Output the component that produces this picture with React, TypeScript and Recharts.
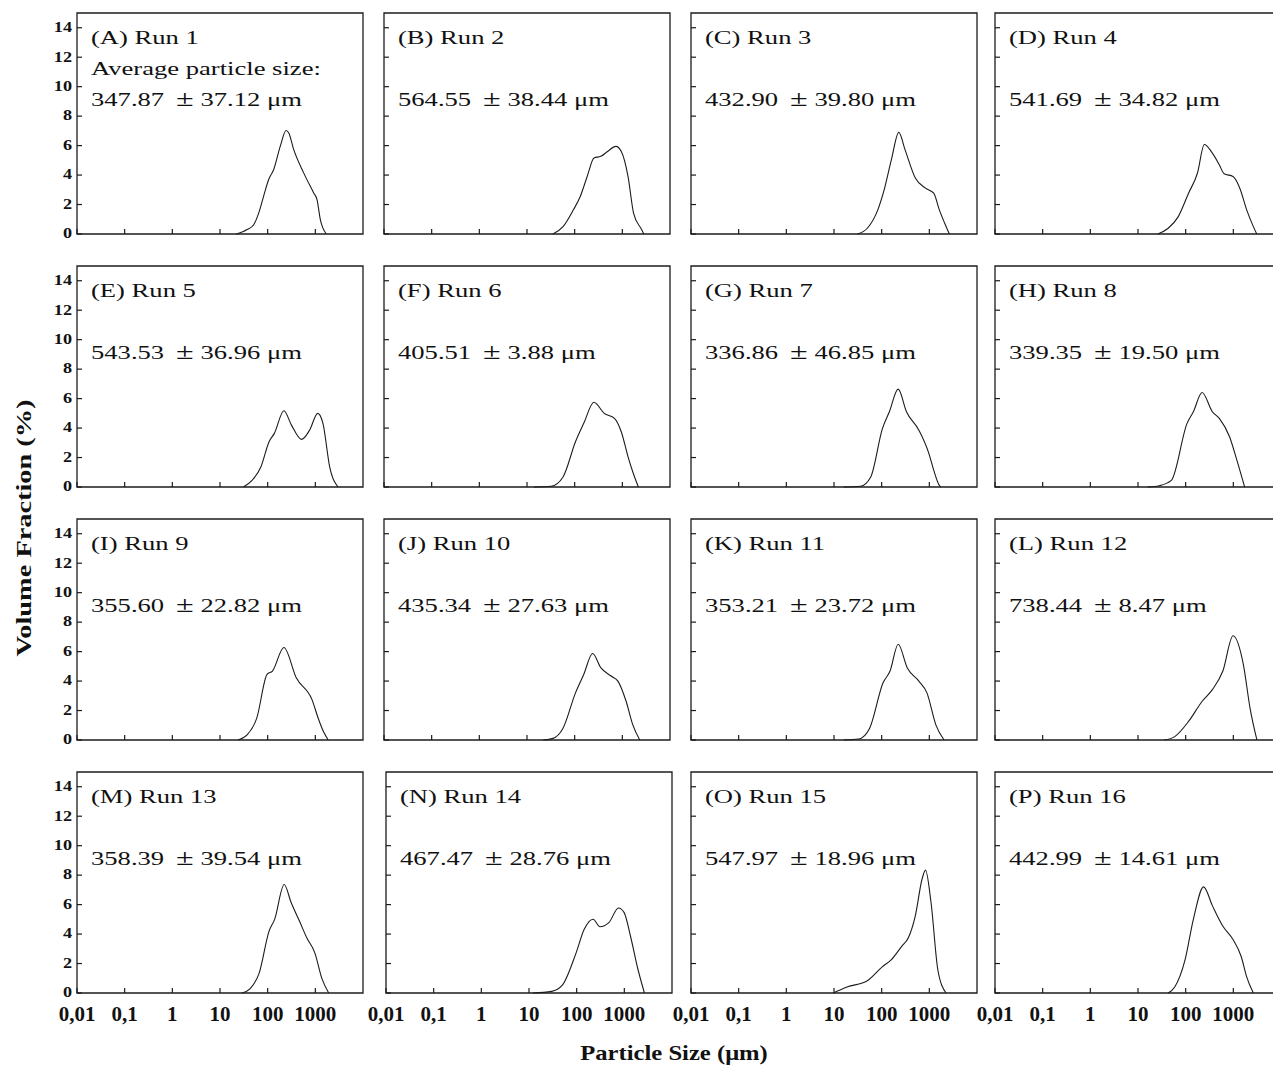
import React from 'react';
import { LineChart, Line, XAxis, YAxis, ReferenceArea } from 'recharts';

// particle size distributions, [size in µm, volume fraction in %]
const run1 = [[22, 0], [30, 0.15], [37, 0.3], [51, 0.63], [65, 1.43], [82, 2.56], [105, 3.7], [134, 4.38], [184, 5.96], [243, 7.03], [276, 6.87], [351, 5.74], [569, 4.15], [923, 2.79], [1084, 2.34], [1274, 0.97], [1700, 0]];
const run2 = [[35, 0], [57, 0.5], [94, 1.64], [131, 2.55], [183, 3.9], [254, 5.16], [353, 5.27], [490, 5.6], [731, 5.95], [951, 5.6], [1318, 3.9], [1724, 1.4], [2570, 0.27], [2818, 0]];
const run3 = [[31, 0], [50, 0.39], [83, 1.64], [115, 3.1], [160, 5.05], [229, 6.9], [309, 5.73], [508, 3.8], [833, 3.11], [1236, 2.77], [1620, 1.64], [2100, 0.73], [2630, 0]];
const run4 = [[26, 0], [43, 0.39], [70, 1.18], [115, 2.77], [177, 4.14], [246, 6.07], [343, 5.61], [508, 4.7], [640, 4.09], [985, 3.9], [1368, 3.11], [1905, 1.64], [2630, 0.5], [3100, 0]];
const run5 = [[31, 0], [47, 0.45], [72, 1.36], [107, 3.07], [138, 3.64], [219, 5.18], [316, 4.2], [513, 3.23], [758, 3.86], [1122, 5.0], [1445, 4.32], [2000, 1.36], [3000, 0]];
const run6 = [[14, 0], [32, 0.05], [57, 0.68], [104, 3.07], [155, 4.32], [254, 5.75], [417, 5.0], [684, 4.66], [950, 3.75], [1318, 2.05], [1660, 1.02], [2170, 0]];
const run7 = [[16, 0], [36, 0.05], [59, 0.68], [104, 3.98], [145, 5.11], [222, 6.64], [331, 5.11], [603, 3.86], [980, 2.27], [1236, 1.14], [1620, 0.11], [1740, 0]];
const run8 = [[16, 0], [28, 0.09], [50, 0.45], [107, 4.32], [145, 5.11], [221, 6.41], [363, 5.11], [508, 4.66], [833, 3.41], [1161, 1.93], [1726, 0]];
const run9 = [[24, 0], [37, 0.34], [59, 1.48], [97, 4.45], [126, 4.68], [219, 6.28], [398, 4.22], [851, 2.74], [1148, 1.48], [1480, 0.57], [1860, 0]];
const run10 = [[22, 0], [35, 0.11], [57, 0.8], [104, 3.2], [155, 4.45], [238, 5.87], [353, 4.91], [580, 4.34], [807, 4.0], [1200, 2.63], [1660, 1.03], [2320, 0]];
const run11 = [[16, 0], [33, 0.07], [56, 0.8], [107, 3.88], [150, 4.68], [222, 6.5], [343, 4.91], [603, 4.0], [891, 3.2], [1370, 1.03], [2040, 0]];
const run12 = [[36, 0], [59, 0.23], [115, 1.26], [222, 2.63], [363, 3.42], [603, 4.68], [985, 7.08], [1620, 5.14], [2240, 2.17], [3125, 0]];
const run13 = [[29, 0], [43, 0.3], [66, 1.33], [107, 4.2], [140, 5.0], [222, 7.36], [309, 6.16], [479, 4.78], [661, 3.75], [980, 2.71], [1370, 0.99], [1905, 0]];
const run14 = [[12, 0], [30, 0.11], [50, 0.53], [97, 2.71], [144, 4.32], [221, 5.01], [308, 4.5], [474, 4.78], [755, 5.77], [985, 5.47], [1371, 3.75], [1905, 1.68], [2640, 0]];
const run15 = [[9.6, 0], [18.8, 0.41], [50, 0.83], [104, 1.79], [158, 2.25], [263, 3.17], [363, 3.75], [508, 5.24], [708, 7.77], [832, 8.34], [1084, 6.16], [1510, 1.56], [2240, 0]];
const run16 = [[43, 0], [59, 0.41], [97, 2.25], [145, 5.0], [238, 7.2], [363, 5.93], [600, 4.55], [985, 3.63], [1462, 2.48], [1905, 1.1], [2630, 0]];

const runs = [run1, run2, run3, run4, run5, run6, run7, run8, run9, run10, run11, run12, run13, run14, run15, run16];
const letters = ['A', 'B', 'C', 'D', 'E', 'F', 'G', 'H', 'I', 'J', 'K', 'L', 'M', 'N', 'O', 'P'];
const means = ['347.87', '564.55', '432.90', '541.69', '543.53', '405.51', '336.86', '339.35', '355.60', '435.34', '353.21', '738.44', '358.39', '467.47', '547.97', '442.99'];
const sds = ['37.12', '38.44', '39.80', '34.82', '36.96', '3.88', '46.85', '19.50', '22.82', '27.63', '23.72', '8.47', '39.54', '28.76', '18.96', '14.61'];

const xTicks = [0.01, 0.1, 1, 10, 100, 1000];
const xTickLabels = ['0,01', '0,1', '1', '10', '100', '1000'];
const yTicks = [0, 2, 4, 6, 8, 10, 12, 14];

const FONT = "'Liberation Serif', 'Times New Roman', serif";
const INK = '#1c1c1c';
const PLOT_W = 286;
const PLOT_H = 221;
const colLeft = [77, 384, 691, 995];
const rowTop = [13, 266, 519, 772];
const AXIS_W = 50;
const AXIS_H = 35;
const TOP_PAD = 5;
const RIGHT_PAD = 10;

const XTick = (props: any) => {
  const { x, y, payload, show } = props;
  const i = xTicks.indexOf(payload.value);
  return (
    <g>
      <line x1={x} x2={x} y1={y} y2={y - 5} stroke={INK} strokeWidth={1.2} />
      {show && (
        <text x={x} y={y + 21} textAnchor="middle" dominantBaseline="central" fontFamily={FONT} fontWeight="bold" fontSize={21} fill="#111">
          {xTickLabels[i]}
        </text>
      )}
    </g>
  );
};

const YTick = (props: any) => {
  const { x, y, payload, show } = props;
  return (
    <g>
      <line x1={x} x2={x + 5} y1={y} y2={y} stroke={INK} strokeWidth={1.2} />
      {show && (
        <text transform={`translate(${x - 5} ${y}) scale(1.3 1)`} textAnchor="end" dominantBaseline="central" fontFamily={FONT} fontWeight="bold" fontSize={14} fill="#111">
          {payload.value}
        </text>
      )}
    </g>
  );
};

const Panel: React.FC<{ idx: number }> = ({ idx }) => {
  const row = Math.floor(idx / 4);
  const col = idx % 4;
  const shift = idx === 13 ? 2 : 0;
  const data = runs[idx].map(([size, frac]) => ({ size, frac }));
  return (
    <div style={{ position: 'absolute', left: colLeft[col] + shift - AXIS_W, top: rowTop[row] - TOP_PAD }}>
      <LineChart
        width={PLOT_W + AXIS_W + RIGHT_PAD}
        height={PLOT_H + TOP_PAD + AXIS_H}
        data={data}
        margin={{ top: TOP_PAD, right: RIGHT_PAD, left: 0, bottom: 0 }}
      >
        <ReferenceArea x1={0.01} x2={10000} y1={0} y2={15} fill="none" stroke={INK} strokeWidth={1.3} ifOverflow="visible" />
        <XAxis
          dataKey="size"
          type="number"
          scale="log"
          domain={[0.01, 10000]}
          allowDataOverflow
          ticks={xTicks}
          interval={0}
          height={AXIS_H}
          axisLine={false}
          tickLine={false}
          tickSize={0}
          tickMargin={0}
          tick={(p: any) => <XTick {...p} show={row === 3} />}
        />
        <YAxis
          type="number"
          domain={[0, 15]}
          ticks={yTicks}
          interval={0}
          width={AXIS_W}
          axisLine={false}
          tickLine={false}
          tickSize={0}
          tickMargin={0}
          tick={(p: any) => <YTick {...p} show={col === 0} />}
        />
        <Line type="monotone" dataKey="frac" stroke={INK} strokeWidth={1.1} dot={false} activeDot={false} isAnimationActive={false} />
      </LineChart>
    </div>
  );
};

const App: React.FC = () => {
  return (
    <div style={{ position: 'absolute', left: 0, top: 0, width: 1273, height: 1067, overflow: 'hidden', background: '#fff' }}>
      {runs.map((_, i) => (
        <Panel key={i} idx={i} />
      ))}
      <svg width={1273} height={1067} style={{ position: 'absolute', left: 0, top: 0, pointerEvents: 'none' }}>
        {runs.map((_, i) => {
          const row = Math.floor(i / 4);
          const col = i % 4;
          const x = colLeft[col] + 14 + (i === 13 ? 2 : 0);
          const top = rowTop[row];
          return (
            <g key={i} fontFamily={FONT} fontSize={19} fill="#111">
              <text transform={`translate(${x} ${top + 30.5}) scale(1.4 1)`}>{`(${letters[i]}) Run ${i + 1}`}</text>
              {i === 0 && <text transform={`translate(${x} ${top + 61.5}) scale(1.4 1)`}>Average particle size:</text>}
              <text transform={`translate(${x} ${top + 93}) scale(1.4 1)`} style={{ whiteSpace: 'pre' }}>
                {`${means[i]} \u2009`}
                <tspan fontSize={23}>{'\u00b1'}</tspan>
                {` ${sds[i]} \u03bcm`}
              </text>
            </g>
          );
        })}
        <text
          transform="translate(24 528) rotate(-90) scale(1.35 1)"
          textAnchor="middle"
          dominantBaseline="central"
          fontFamily={FONT}
          fontWeight="bold"
          fontSize={21}
          fill="#111"
        >
          Volume Fraction (%)
        </text>
        <text
          transform="translate(674 1060) scale(1.12 1)"
          textAnchor="middle"
          fontFamily={FONT}
          fontWeight="bold"
          fontSize={22}
          fill="#111"
        >
          Particle Size (μm)
        </text>
      </svg>
    </div>
  );
};

export default App;
